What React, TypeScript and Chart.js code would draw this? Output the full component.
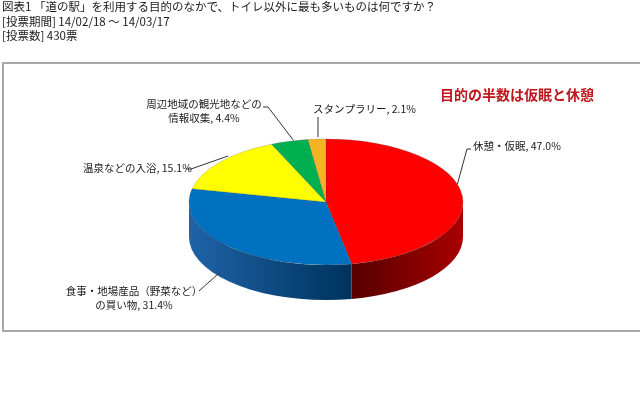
import React, { useEffect, useRef } from "react";
import { Chart, registerables } from "chart.js";

Chart.register(...registerables);

const categories = [
  "休憩・仮眠",
  "食事・地場産品（野菜など）の買い物",
  "温泉などの入浴",
  "周辺地域の観光地などの情報収集",
  "スタンプラリー",
];
const labelNameLines = [
  ["休憩・仮眠"],
  ["食事・地場産品（野菜など）", "の買い物"],
  ["温泉などの入浴"],
  ["周辺地域の観光地などの", "情報収集"],
  ["スタンプラリー"],
];
const values = [47.0, 31.4, 15.1, 4.4, 2.1];
const topColors = ["#ff0000", "#0070c0", "#ffff00", "#00b050", "#f5b324"];
const sideLight = ["#a80000", "#1f64a8", "#b8b800", "#007a3a", "#b07a10"];
const sideDark = ["#5a0000", "#00345f", "#808000", "#004a22", "#7a5000"];
const headerLines = [
  "図表1 「道の駅」を利用する目的のなかで、トイレ以外に最も多いものは何ですか？",
  "[投票期間] 14/02/18 〜 14/03/17",
  "[投票数] 430票",
];
const headline = "目的の半数は仮眠と休憩";

const CY = 202;
const K = 0.46;
const DEPTH = 35;
const JP = '"Noto Sans CJK JP", "Noto Sans", sans-serif';

const pie3d = {
  id: "pie3d",
  beforeDraw(chart: any) {
    const ctx = chart.ctx;
    ctx.save();
    ctx.fillStyle = "#ffffff";
    ctx.fillRect(0, 0, chart.width, chart.height);
    ctx.strokeStyle = "#a8a8a8";
    ctx.lineWidth = 2;
    ctx.strokeRect(3, 63, 660, 268);
    ctx.restore();
  },
  beforeDatasetsDraw(chart: any) {
    const ctx = chart.ctx;
    const meta = chart.getDatasetMeta(0);
    const arcs = meta.data;
    const cx = arcs[0].x;
    const r = arcs[0].outerRadius;
    ctx.save();
    arcs.forEach((arc: any, i: number) => {
      const s = Math.max(arc.startAngle, 0);
      const e = Math.min(arc.endAngle, Math.PI);
      if (s >= e) return;
      const g = ctx.createLinearGradient(cx - r, 0, cx + r, 0);
      const boundary = (Math.cos(1.382) + 1) / 2;
      g.addColorStop(0, sideLight[i]);
      g.addColorStop(Math.max(0, boundary - 0.02), sideDark[i]);
      g.addColorStop(Math.min(1, boundary + 0.02), sideDark[i]);
      g.addColorStop(1, sideLight[i]);
      ctx.beginPath();
      ctx.ellipse(cx, CY, r, r * K, 0, s, e, false);
      ctx.ellipse(cx, CY + DEPTH, r, r * K, 0, e, s, true);
      ctx.closePath();
      ctx.fillStyle = g;
      ctx.fill();
    });
    ctx.translate(0, CY);
    ctx.scale(1, K);
    ctx.translate(0, -arcs[0].y);
  },
  afterDatasetsDraw(chart: any) {
    chart.ctx.restore();
  },
  afterDraw(chart: any) {
    const ctx = chart.ctx;
    const meta = chart.getDatasetMeta(0);
    const arcs = meta.data;
    const cx = arcs[0].x;
    const r = arcs[0].outerRadius;
    ctx.save();
    ctx.fillStyle = "#1a1a1a";
    ctx.textBaseline = "middle";
    ctx.font = `11.5px ${JP}`;
    headerLines.forEach((t, i) => ctx.fillText(t, 2, 7 + i * 14.5));

    ctx.font = `bold 14px ${JP}`;
    ctx.fillStyle = "#c0141c";
    ctx.fillText(headline, 440, 95);

    const anchor = (i: number) => {
      const a = (arcs[i].startAngle + arcs[i].endAngle) / 2;
      const x = cx + r * Math.cos(a);
      let y = CY + r * K * Math.sin(a);
      if (Math.sin(a) > 0) y += DEPTH * 0.75;
      return [x, y];
    };
    const layout: any[] = [
      { x: 473, y: 146, align: "left", path: [[471, 149], [467, 149]], nudge: [-5, -12] },
      { x: 134, y: 291, align: "center", path: [[199, 291]], nudge: [-8, 0] },
      { x: 83, y: 168, align: "left", path: [[186, 169], [191, 169]], nudge: [8, -6] },
      { x: 204, y: 104, align: "center", path: [[263, 107], [268, 107]], nudge: [4, -1] },
      { x: 313, y: 109, align: "left", path: [[318, 117]], nudge: [1, -2] },
    ];
    ctx.font = `10.5px ${JP}`;
    ctx.fillStyle = "#1a1a1a";
    ctx.strokeStyle = "#333";
    ctx.lineWidth = 1;
    layout.forEach((L, i) => {
      const lines = labelNameLines[i].slice();
      lines[lines.length - 1] = `${lines[lines.length - 1]}, ${values[i].toFixed(1)}%`;
      ctx.textAlign = L.align;
      lines.forEach((t: string, j: number) => ctx.fillText(t, L.x, L.y + j * 14.5));
      const [ax, ay] = anchor(i);
      ctx.beginPath();
      ctx.moveTo(L.path[0][0], L.path[0][1]);
      for (let k = 1; k < L.path.length; k++) ctx.lineTo(L.path[k][0], L.path[k][1]);
      ctx.lineTo(ax + L.nudge[0], ay + L.nudge[1]);
      ctx.stroke();
    });
    ctx.restore();
  },
};

export default function App() {
  const ref = useRef<HTMLCanvasElement | null>(null);
  useEffect(() => {
    if (!ref.current) return;
    const chart = new Chart(ref.current, {
      type: "pie",
      data: {
        labels: categories,
        datasets: [
          {
            data: values,
            backgroundColor: topColors,
            borderWidth: 0.6,
            borderColor: "rgba(60,60,60,0.45)",
            radius: 137,
            clip: false,
          } as any,
        ],
      },
      options: {
        animation: false,
        responsive: false,
        devicePixelRatio: 1,
        events: [],
        rotation: 0,
        layout: { padding: { left: 12, right: 0, top: 0, bottom: 0 } },
        plugins: { legend: { display: false }, tooltip: { enabled: false } },
      },
      plugins: [pie3d],
    });
    return () => chart.destroy();
  }, []);
  return (
    <div style={{ position: "absolute", left: 0, top: 0, width: 640, height: 400, background: "#fff" }}>
      <canvas ref={ref} width={640} height={400} />
    </div>
  );
}
